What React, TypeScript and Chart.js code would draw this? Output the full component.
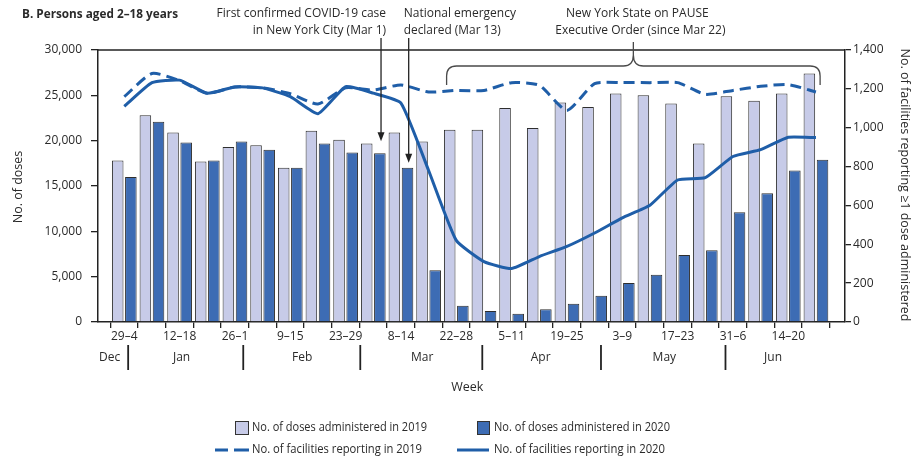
import React, { useEffect, useRef } from 'react';
import { Chart, registerables } from 'chart.js';

Chart.register(...registerables);

// ---------- data ----------
const weeks = ['29–4', '5–11', '12–18', '19–25', '26–1', '2–8', '9–15', '16–22', '23–29', '1–7', '8–14', '15–21', '22–28',
  '29–4', '5–11', '12–18', '19–25', '26–2', '3–9', '10–16', '17–23', '24–30', '31–6', '7–13', '14–20', '21–27'];

const doses2019 = [17800, 22800, 20900, 17700, 19300, 19500, 17000, 21100, 20100, 19700, 20900, 19900, 21200,
  21200, 23600, 21400, 24200, 23700, 25200, 25000, 24100, 19700, 24900, 24400, 25200, 27400];
const doses2020 = [16000, 22100, 19800, 17800, 19900, 19000, 17000, 19700, 18700, 18600, 17000, 5700, 1800,
  1200, 900, 1400, 2000, 2900, 4300, 5200, 7400, 7900, 12100, 14200, 16700, 17900];

const facilities2019 = [1160, 1279, 1242, 1177, 1210, 1205, 1175, 1122, 1205, 1194, 1220, 1184, 1192,
  1192, 1232, 1218, 1089, 1227, 1232, 1232, 1232, 1172, 1192, 1213, 1222, 1184];
const facilities2020 = [1110, 1232, 1245, 1177, 1210, 1205, 1160, 1072, 1211, 1178, 1127, 780, 420,
  311, 275, 337, 389, 458, 536, 601, 731, 743, 852, 887, 951, 949];

const months = ['Dec', 'Jan', 'Feb', 'Mar', 'Apr', 'May', 'Jun'];
const monthCenters = [-0.53, 2.07, 6.43, 10.77, 15.05, 19.52, 23.45];
const monthBreaks = [0.14, 4.3, 8.53, 12.94, 17.23, 21.73];

const eventWeeks = [9.28, 10.28];
const pauseRange = [11.65, 25.15];

const annotations = [
  ['First confirmed COVID-19 case', 'in New York City (Mar 1)'],
  ['National emergency', 'declared (Mar 13)'],
  ['New York State on PAUSE', 'Executive Order (since Mar 22)'],
];

const legendLabels = [
  'No. of doses administered in 2019',
  'No. of doses administered in 2020',
  'No. of facilities reporting in 2019',
  'No. of facilities reporting in 2020',
];

const titleText = 'B. Persons aged 2–18 years';
const yTitle = 'No. of doses';
const y1Title = 'No. of facilities reporting ≥1 dose administered';
const xTitle = 'Week';

// ---------- styles ----------
const FONT = '"Open Sans", "DejaVu Sans", sans-serif';
const TXT = '#2a2a2a';
const AXIS = '#222222';
const LIGHT = '#c7cbe8';
const DARK = '#3d6cb4';
const LINE = '#1f5ea8';

function put(ctx: CanvasRenderingContext2D, s: string, x: number, y: number, size: number, align: CanvasTextAlign, maxW?: number, bold = false) {
  ctx.font = `${bold ? 'bold ' : ''}${size}px ${FONT}`;
  ctx.textAlign = align;
  ctx.textBaseline = 'middle';
  ctx.fillStyle = TXT;
  if (maxW) {
    const w = ctx.measureText(s).width;
    ctx.fillText(s, x, y, Math.min(w, maxW));
  } else ctx.fillText(s, x, y);
}

function arrowDown(ctx: CanvasRenderingContext2D, x: number, y0: number, y1: number) {
  ctx.strokeStyle = '#222';
  ctx.fillStyle = '#222';
  ctx.lineWidth = 1.3;
  ctx.beginPath();
  ctx.moveTo(x, y0);
  ctx.lineTo(x, y1 - 6);
  ctx.stroke();
  ctx.beginPath();
  ctx.moveTo(x - 3.5, y1 - 9);
  ctx.lineTo(x + 3.5, y1 - 9);
  ctx.lineTo(x, y1);
  ctx.closePath();
  ctx.fill();
}

const decorPlugin = {
  id: 'decor',
  afterDraw(chart: any) {
    const ctx: CanvasRenderingContext2D = chart.ctx;
    const xs = chart.scales.x;
    const ys = chart.scales.y;
    const ca = chart.chartArea;
    ctx.save();

    // top frame
    ctx.strokeStyle = AXIS;
    ctx.lineWidth = 1.5;
    ctx.beginPath();
    ctx.moveTo(ca.left, ca.top);
    ctx.lineTo(ca.right, ca.top);
    ctx.stroke();

    // title
    put(ctx, titleText, 22, 15, 12, 'left', 156, true);

    // annotations
    const a1 = xs.getPixelForValue(eventWeeks[0]);
    const a2 = xs.getPixelForValue(eventWeeks[1]);
    put(ctx, annotations[0][0], a1 + 5, 14, 12, 'right', 171);
    put(ctx, annotations[0][1], a1 + 5, 31, 12, 'right', 135);
    put(ctx, annotations[1][0], a2 - 5, 14, 12, 'left', 114);
    put(ctx, annotations[1][1], a2 - 5, 31, 12, 'left', 97);
    const pL = xs.getPixelForValue(pauseRange[0]);
    const pR = xs.getPixelForValue(pauseRange[1]);
    const pC = (pL + pR) / 2;
    put(ctx, annotations[2][0], pC + 4, 14, 12, 'center', 143);
    put(ctx, annotations[2][1], pC + 7, 31, 12, 'center', 177);

    // arrows to the 2020 bars
    const top1 = ys.getPixelForValue(doses2020[9]);
    const top2 = ys.getPixelForValue(doses2020[10]);
    arrowDown(ctx, a1, 38, top1 - 12);
    arrowDown(ctx, a2, 38, top2 - 5);

    // brace
    ctx.strokeStyle = '#4a4a4a';
    ctx.lineWidth = 1.3;
    const by = 66, bend = 85, r = 10, cy = 55;
    ctx.beginPath();
    ctx.moveTo(pL, bend);
    ctx.lineTo(pL, by + r);
    ctx.quadraticCurveTo(pL, by, pL + r, by);
    ctx.lineTo(pC - r, by);
    ctx.quadraticCurveTo(pC, by, pC, cy);
    ctx.quadraticCurveTo(pC, by, pC + r, by);
    ctx.lineTo(pR - r, by);
    ctx.quadraticCurveTo(pR, by, pR, by + r);
    ctx.lineTo(pR, bend);
    ctx.stroke();
    ctx.beginPath();
    ctx.moveTo(pC, cy);
    ctx.lineTo(pC, 42);
    ctx.stroke();

    // month row
    ctx.strokeStyle = '#222';
    ctx.lineWidth = 1.8;
    monthBreaks.forEach((v) => {
      const px = xs.getPixelForValue(v);
      ctx.beginPath();
      ctx.moveTo(px, 345);
      ctx.lineTo(px, 370);
      ctx.stroke();
    });
    months.forEach((m, i) => put(ctx, m, xs.getPixelForValue(monthCenters[i]), 358, 12, 'center'));

    // axis titles
    put(ctx, xTitle, xs.getPixelForValue(12.4), 387, 12.5, 'center');
    ctx.save();
    ctx.translate(18, 187);
    ctx.rotate(-Math.PI / 2);
    put(ctx, yTitle, 0, 0, 12.5, 'center', 76);
    ctx.restore();
    ctx.save();
    ctx.translate(905, 185);
    ctx.rotate(Math.PI / 2);
    put(ctx, y1Title, 0, 0, 12.5, 'center', 300);
    ctx.restore();

    // legend
    const r1 = 428, r2 = 450;
    ctx.lineWidth = 1;
    ctx.strokeStyle = '#333';
    ctx.fillStyle = LIGHT;
    ctx.fillRect(235.5, r1 - 6.5, 13, 13);
    ctx.strokeRect(235.5, r1 - 6.5, 13, 13);
    ctx.fillStyle = DARK;
    ctx.fillRect(477.5, r1 - 6.5, 12, 13);
    ctx.strokeRect(477.5, r1 - 6.5, 12, 13);
    put(ctx, legendLabels[0], 252, r1, 12, 'left', 175);
    put(ctx, legendLabels[1], 494, r1, 12, 'left', 176);
    ctx.strokeStyle = LINE;
    ctx.lineWidth = 3;
    ctx.beginPath();
    ctx.moveTo(215, r2); ctx.lineTo(228, r2);
    ctx.moveTo(234, r2); ctx.lineTo(249, r2);
    ctx.moveTo(457, r2); ctx.lineTo(489, r2);
    ctx.stroke();
    put(ctx, legendLabels[2], 252, r2, 12, 'left', 170);
    put(ctx, legendLabels[3], 494, r2, 12, 'left', 171);

    ctx.restore();
  },
};

export default function App() {
  const ref = useRef<HTMLCanvasElement | null>(null);

  useEffect(() => {
    if (!ref.current) return;
    const pts = (arr: number[]) => arr.map((v, i) => ({ x: i, y: v }));
    const chart = new Chart(ref.current, {
      type: 'bar',
      data: {
        datasets: [
          {
            type: 'line', label: legendLabels[2], data: pts(facilities2019), yAxisID: 'y1',
            borderColor: LINE, borderWidth: 3, borderDash: [11, 6], pointRadius: 0, tension: 0.2, fill: false, order: 0,
          } as any,
          {
            type: 'line', label: legendLabels[3], data: pts(facilities2020), yAxisID: 'y1',
            borderColor: LINE, borderWidth: 3, pointRadius: 0, tension: 0.15, fill: false, order: 1,
          } as any,
          {
            type: 'bar', label: legendLabels[0], data: pts(doses2019), yAxisID: 'y',
            backgroundColor: LIGHT, borderColor: '#2e2e2e', borderWidth: 1,
            categoryPercentage: 0.95, barPercentage: 0.88, order: 2,
          } as any,
          {
            type: 'bar', label: legendLabels[1], data: pts(doses2020), yAxisID: 'y',
            backgroundColor: DARK, borderColor: '#2e2e2e', borderWidth: 1,
            categoryPercentage: 0.95, barPercentage: 0.88, order: 3,
          } as any,
        ],
      },
      options: {
        responsive: false,
        animation: false,
        layout: { padding: { top: 50, left: 0, right: 0, bottom: 0 } },
        plugins: { legend: { display: false }, tooltip: { enabled: false }, title: { display: false } },
        scales: {
          x: {
            type: 'linear',
            offset: false,
            min: -0.95,
            max: 26.05,
            afterBuildTicks: (s: any) => { s.ticks = weeks.map((_, i) => ({ value: i })); },
            afterFit: (s: any) => { s.height = 135; },
            grid: { offset: true, drawOnChartArea: false, drawTicks: true, tickLength: 6, color: AXIS, lineWidth: 1.3 },
            border: { display: true, color: AXIS, width: 1.5 },
            ticks: {
              autoSkip: false, maxRotation: 0, minRotation: 0, padding: 1, color: TXT,
              font: { family: FONT, size: 12 },
              callback: (_v: any, i: number) => (i % 2 === 0 ? weeks[i] : ''),
            },
          },
          y: {
            type: 'linear', position: 'left', min: 0, max: 30000,
            afterFit: (s: any) => { s.width = 98; },
            grid: { drawOnChartArea: false, drawTicks: true, tickLength: 7, color: AXIS, lineWidth: 1.3 },
            border: { display: true, color: AXIS, width: 1.5 },
            ticks: {
              stepSize: 5000, padding: 9, color: TXT, font: { family: FONT, size: 12 },
              callback: (v: any) => Number(v).toLocaleString('en-US'),
            },
          },
          y1: {
            type: 'linear', position: 'right', min: 0, max: 1400,
            afterFit: (s: any) => { s.width = 71; },
            grid: { drawOnChartArea: false, drawTicks: true, tickLength: 6, color: AXIS, lineWidth: 1.3 },
            border: { display: true, color: AXIS, width: 1.5 },
            ticks: {
              stepSize: 200, padding: 2, color: TXT, font: { family: FONT, size: 12 },
              callback: (v: any) => Number(v).toLocaleString('en-US'),
            },
          },
        },
      } as any,
      plugins: [decorPlugin],
    });
    return () => chart.destroy();
  }, []);

  return (
    <div style={{ position: 'absolute', left: 0, top: 0, width: 916, height: 457, background: '#fff' }}>
      <canvas ref={ref} width={916} height={457} style={{ width: 916, height: 457, display: 'block' }} />
    </div>
  );
}
